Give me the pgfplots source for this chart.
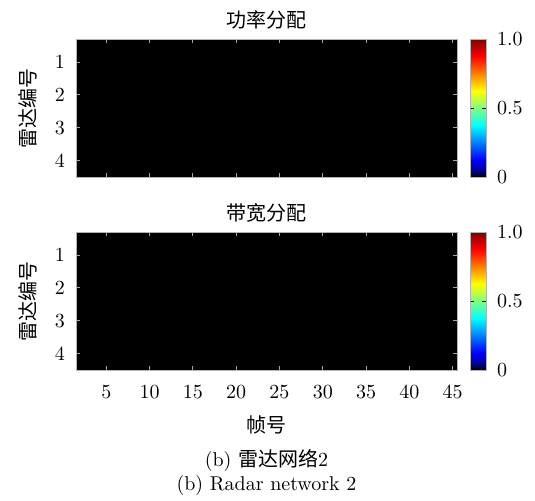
\documentclass[border=0pt]{standalone}
\usepackage{pgfplots}
\usepackage{pgfplotstable}
\pgfplotsset{compat=1.18}
\usepackage{fontspec}
\newfontfamily\cjk{Noto Sans CJK SC}

\pgfplotstableread[row sep=\\]{
x y c\\
2 1 0\\ 3 1 0\\ 4 1 0\\ 5 1 0\\ 6 1 0\\ 7 1 0\\ 8 1 0\\ 9 1 0\\ 10 1 0\\ 11 1 0\\ 12 1 0\\
13 1 0\\ 14 1 0\\ 15 1 0\\ 16 1 0\\ 17 1 0\\ 18 1 0\\ 19 1 0\\ 20 1 0\\ 21 1 0\\ 22 1 0\\ 23 1 0\\
24 1 0\\ 25 1 0\\ 26 1 0\\ 27 1 0\\ 28 1 0\\ 29 1 0\\ 30 1 0\\ 31 1 0\\ 32 1 0\\ 33 1 0\\ 34 1 0\\
35 1 0\\ 36 1 0\\ 37 1 0\\ 38 1 0\\ 39 1 0\\ 40 1 0\\ 41 1 0\\ 42 1 0\\ 43 1 0\\ 44 1 0\\ 45 1 0\\
2 2 0\\ 3 2 0\\ 4 2 0\\ 5 2 0\\ 6 2 0\\ 7 2 0\\ 8 2 0\\ 9 2 0\\ 10 2 0\\ 11 2 0\\ 12 2 0\\
13 2 0\\ 14 2 0\\ 15 2 0\\ 16 2 0\\ 17 2 0\\ 18 2 0\\ 19 2 0\\ 20 2 0\\ 21 2 0\\ 22 2 0\\ 23 2 0\\
24 2 0\\ 25 2 0\\ 26 2 0\\ 27 2 0\\ 28 2 0\\ 29 2 0\\ 30 2 0\\ 31 2 0\\ 32 2 0\\ 33 2 0\\ 34 2 0\\
35 2 0\\ 36 2 0\\ 37 2 0\\ 38 2 0\\ 39 2 0\\ 40 2 0\\ 41 2 0\\ 42 2 0\\ 43 2 0\\ 44 2 0\\ 45 2 0\\
2 3 0\\ 3 3 0\\ 4 3 0\\ 5 3 0\\ 6 3 0\\ 7 3 0\\ 8 3 0\\ 9 3 0\\ 10 3 0\\ 11 3 0\\ 12 3 0\\
13 3 0\\ 14 3 0\\ 15 3 0\\ 16 3 0\\ 17 3 0\\ 18 3 0\\ 19 3 0\\ 20 3 0\\ 21 3 0\\ 22 3 0\\ 23 3 0\\
24 3 0\\ 25 3 0\\ 26 3 0\\ 27 3 0\\ 28 3 0\\ 29 3 0\\ 30 3 0\\ 31 3 0\\ 32 3 0\\ 33 3 0\\ 34 3 0\\
35 3 0\\ 36 3 0\\ 37 3 0\\ 38 3 0\\ 39 3 0\\ 40 3 0\\ 41 3 0\\ 42 3 0\\ 43 3 0\\ 44 3 0\\ 45 3 0\\
2 4 0\\ 3 4 0\\ 4 4 0\\ 5 4 0\\ 6 4 0\\ 7 4 0\\ 8 4 0\\ 9 4 0\\ 10 4 0\\ 11 4 0\\ 12 4 0\\
13 4 0\\ 14 4 0\\ 15 4 0\\ 16 4 0\\ 17 4 0\\ 18 4 0\\ 19 4 0\\ 20 4 0\\ 21 4 0\\ 22 4 0\\ 23 4 0\\
24 4 0\\ 25 4 0\\ 26 4 0\\ 27 4 0\\ 28 4 0\\ 29 4 0\\ 30 4 0\\ 31 4 0\\ 32 4 0\\ 33 4 0\\ 34 4 0\\
35 4 0\\ 36 4 0\\ 37 4 0\\ 38 4 0\\ 39 4 0\\ 40 4 0\\ 41 4 0\\ 42 4 0\\ 43 4 0\\ 44 4 0\\ 45 4 0\\
}\power

\pgfplotstableread[row sep=\\]{
x y c\\
2 1 0\\ 3 1 0\\ 4 1 0\\ 5 1 0\\ 6 1 0\\ 7 1 0\\ 8 1 0\\ 9 1 0\\ 10 1 0\\ 11 1 0\\ 12 1 0\\
13 1 0\\ 14 1 0\\ 15 1 0\\ 16 1 0\\ 17 1 0\\ 18 1 0\\ 19 1 0\\ 20 1 0\\ 21 1 0\\ 22 1 0\\ 23 1 0\\
24 1 0\\ 25 1 0\\ 26 1 0\\ 27 1 0\\ 28 1 0\\ 29 1 0\\ 30 1 0\\ 31 1 0\\ 32 1 0\\ 33 1 0\\ 34 1 0\\
35 1 0\\ 36 1 0\\ 37 1 0\\ 38 1 0\\ 39 1 0\\ 40 1 0\\ 41 1 0\\ 42 1 0\\ 43 1 0\\ 44 1 0\\ 45 1 0\\
2 2 0\\ 3 2 0\\ 4 2 0\\ 5 2 0\\ 6 2 0\\ 7 2 0\\ 8 2 0\\ 9 2 0\\ 10 2 0\\ 11 2 0\\ 12 2 0\\
13 2 0\\ 14 2 0\\ 15 2 0\\ 16 2 0\\ 17 2 0\\ 18 2 0\\ 19 2 0\\ 20 2 0\\ 21 2 0\\ 22 2 0\\ 23 2 0\\
24 2 0\\ 25 2 0\\ 26 2 0\\ 27 2 0\\ 28 2 0\\ 29 2 0\\ 30 2 0\\ 31 2 0\\ 32 2 0\\ 33 2 0\\ 34 2 0\\
35 2 0\\ 36 2 0\\ 37 2 0\\ 38 2 0\\ 39 2 0\\ 40 2 0\\ 41 2 0\\ 42 2 0\\ 43 2 0\\ 44 2 0\\ 45 2 0\\
2 3 0\\ 3 3 0\\ 4 3 0\\ 5 3 0\\ 6 3 0\\ 7 3 0\\ 8 3 0\\ 9 3 0\\ 10 3 0\\ 11 3 0\\ 12 3 0\\
13 3 0\\ 14 3 0\\ 15 3 0\\ 16 3 0\\ 17 3 0\\ 18 3 0\\ 19 3 0\\ 20 3 0\\ 21 3 0\\ 22 3 0\\ 23 3 0\\
24 3 0\\ 25 3 0\\ 26 3 0\\ 27 3 0\\ 28 3 0\\ 29 3 0\\ 30 3 0\\ 31 3 0\\ 32 3 0\\ 33 3 0\\ 34 3 0\\
35 3 0\\ 36 3 0\\ 37 3 0\\ 38 3 0\\ 39 3 0\\ 40 3 0\\ 41 3 0\\ 42 3 0\\ 43 3 0\\ 44 3 0\\ 45 3 0\\
2 4 0\\ 3 4 0\\ 4 4 0\\ 5 4 0\\ 6 4 0\\ 7 4 0\\ 8 4 0\\ 9 4 0\\ 10 4 0\\ 11 4 0\\ 12 4 0\\
13 4 0\\ 14 4 0\\ 15 4 0\\ 16 4 0\\ 17 4 0\\ 18 4 0\\ 19 4 0\\ 20 4 0\\ 21 4 0\\ 22 4 0\\ 23 4 0\\
24 4 0\\ 25 4 0\\ 26 4 0\\ 27 4 0\\ 28 4 0\\ 29 4 0\\ 30 4 0\\ 31 4 0\\ 32 4 0\\ 33 4 0\\ 34 4 0\\
35 4 0\\ 36 4 0\\ 37 4 0\\ 38 4 0\\ 39 4 0\\ 40 4 0\\ 41 4 0\\ 42 4 0\\ 43 4 0\\ 44 4 0\\ 45 4 0\\
}\bandwidth

\pgfplotsset{
  every axis title shift=0pt,
  colormap={radarjet}{[1pt] rgb255(0pt)=(0,0,0); rgb255(2pt)=(0,0,150); rgb255(5pt)=(0,0,255); rgb255(15pt)=(0,255,255); rgb255(25pt)=(255,255,0); rgb255(35pt)=(255,0,0); rgb255(40pt)=(128,0,0)},
  hm/.style={
    width=190.5pt, height=69pt, scale only axis,
    xmin=1.5, xmax=45.5, ymin=0.3, ymax=4.5, y dir=reverse,
    xtick={5,10,...,45}, ytick={1,2,3,4},
    enlargelimits=false, axis on top,
    axis background/.style={fill=black},
    axis line style={gray!60},
    tick style={gray!70, thin}, major tick length=2pt,
    xticklabel style={yshift=-4.5pt},
    yticklabel style={xshift=-2pt},
    colormap name=radarjet, point meta min=0, point meta max=1,
    colorbar,
    colorbar style={
      width=8pt, at={(parent axis.north east)}, anchor=north west, xshift=-2pt,
      ytick={0,0.5,1}, yticklabels={0,0.5,1.0},
      yticklabel style={xshift=2pt},
      tick style={black, thin}, major tick length=2pt,
      axis line style={gray!60},
    },
    title style={at={(axis description cs:0.5,1)}, anchor=center, yshift=9.5pt},
    ylabel={\cjk 雷达编号},
    ylabel style={at={(axis description cs:-0.126,0.5)}, anchor=center},
  },
}

\begin{document}
\begin{tikzpicture}
\begin{axis}[hm, name=top, title={\cjk 功率分配}, xticklabels={}]
\addplot[matrix plot*, mesh/cols=44, point meta=explicit] table[x=x, y=y, meta=c] {\power};
\end{axis}
\begin{axis}[hm, name=bot, at={(top.south west)}, anchor=north west, yshift=-27.5pt,
  title={\cjk 带宽分配},
  xlabel={\cjk 帧号},
  xlabel style={at={(axis description cs:0.5,0)}, anchor=center, yshift=-27.5pt}]
\addplot[matrix plot*, mesh/cols=44, point meta=explicit] table[x=x, y=y, meta=c] {\bandwidth};
\end{axis}
\node at ([yshift=-45pt]bot.south) {(b) {\cjk 雷达网络}2};
\node at ([yshift=-57.5pt]bot.south) {(b) Radar network 2};
\pgfresetboundingbox
\path ([xshift=-38pt,yshift=19.5pt]top.north west) rectangle ([xshift=229.5pt,yshift=-230.5pt]top.north west);
\end{tikzpicture}
\end{document}
